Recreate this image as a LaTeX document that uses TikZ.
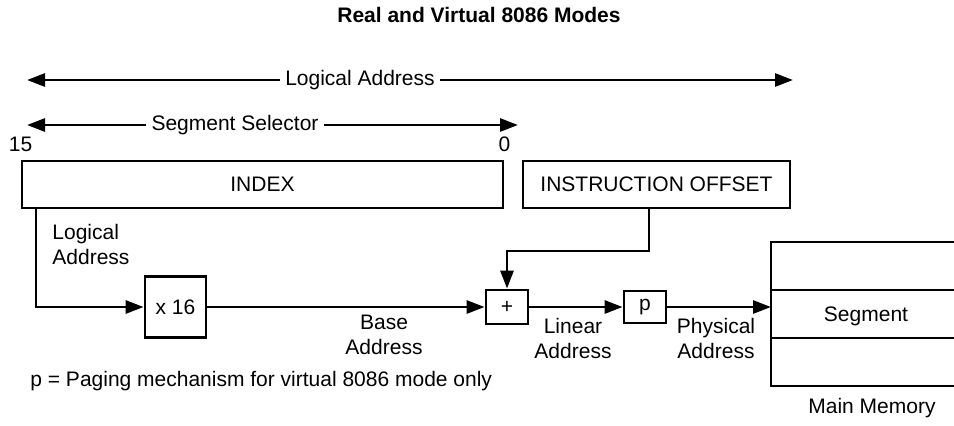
\documentclass[tikz,border=0pt]{standalone}
\usepackage{fontspec}
\setmainfont{Liberation Sans}
\usetikzlibrary{arrows.meta,positioning}
\tikzset{font=\fontsize{10.5}{12.5}\selectfont}
\tikzset{box/.style={draw,inner sep=0pt}}
\tikzset{arr/.style={-{Triangle[length=9pt,width=6.5pt]}}}
\tikzset{lbl/.style={inner sep=0pt,align=center}}

\begin{document}
\begin{tikzpicture}[x=0.5pt,y=-0.5pt,line width=1.4pt]
\useasboundingbox (0,0) rectangle (954,425);
\node[font=\fontsize{10.5}{12.5}\selectfont\bfseries] (title) at (479,15) {Real and Virtual 8086 Modes};
% address ranges
\node[inner sep=2pt] (lalab) at (360,80) {Logical Address};
\coordinate (lal) at (27,80);
\coordinate (lar) at (793,80);
\draw[arr] (lalab.west) -- (lal);
\draw[arr] (lalab.east) -- (lar);
\node[inner sep=2pt] (sslab) at (235,125) {Segment Selector};
\coordinate (ssl) at (27,125);
\coordinate (ssr) at (518,125);
\draw[arr] (sslab.west) -- (ssl);
\draw[arr] (sslab.east) -- (ssr);
% selector and offset
\node[box,minimum width=240.5pt,minimum height=23.5pt] (index) at (262.5,184.5) {INDEX};
\node[lbl,above=3.5pt] (hib) at (index.north west) {15};
\node[lbl,above=3.5pt] (lob) at (index.north east) {0};
\node[box,minimum width=133.5pt,minimum height=23.5pt] (instr) at (656.5,184.5) {INSTRUCTION OFFSET};
% units
\node[box,minimum width=30.5pt,minimum height=30.5pt] (x16) at (175.5,307) {x 16};
\node[box,minimum width=21pt,minimum height=17pt] (plus) at (507,307) {+};
\node[box,minimum width=21pt,minimum height=16pt] (p) at (645,307) {p};
% main memory
\draw (954,242) -| (771,386) -- (954,386);
\draw (771,290) -- (954,290) (771,338) -- (954,338);
\coordinate (mem) at (771,307);
\node[lbl] (seg) at (866,316) {Segment};
\node[lbl] (mmlab) at (872,408) {Main Memory};
% connectors
\coordinate (lc) at (36,307);
\draw[arr] (lc |- index.south) -- (lc) -- (x16.west);
\draw[arr] (x16.east) -- (plus.west);
\coordinate (io) at (649,251);
\draw[arr] (io |- instr.south) |- (plus.north |- io) -- (plus.north);
\draw[arr] (plus.east) -- (p.west);
\draw[arr] (p.east) -- (mem);
% labels
\node[lbl,align=left,anchor=north west] (loglab) at (51,223) {Logical\\Address};
\node[lbl] (baselab) at (384,335) {Base\\Address};
\node[lbl] (linlab) at (573,338.5) {Linear\\Address};
\node[lbl] (phylab) at (716,338.5) {Physical\\Address};
\node[lbl,anchor=west] (note) at (29,381) {p = Paging mechanism for virtual 8086 mode only};
\end{tikzpicture}
\end{document}
